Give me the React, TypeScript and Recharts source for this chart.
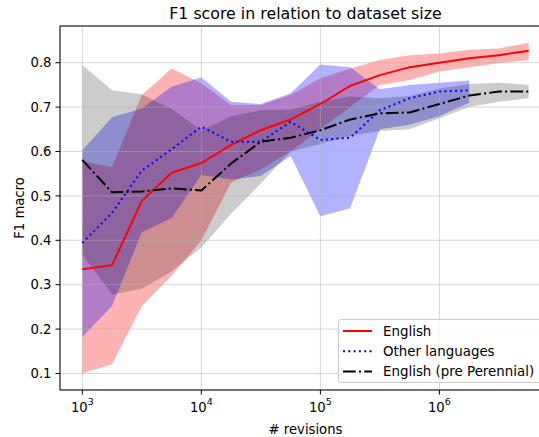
import React from "react";
import { ComposedChart, Area, Line, XAxis, YAxis, CartesianGrid, Legend, ReferenceLine } from "recharts";

// F1 macro vs. number of revisions (log x), mean line + min/max band per series.

const FONT = "DejaVu Sans, Verdana, sans-serif";

const revisions = [
  1000, 1778, 3162, 5623, 10000, 17783, 31623, 56234, 100000, 177828, 316228,
  562341, 1000000, 1778279, 3162278, 5623413,
];

const englishMean = [0.335, 0.344, 0.489, 0.552, 0.574, 0.615, 0.648, 0.672, 0.707, 0.748, 0.772, 0.79, 0.8, 0.81, 0.817, 0.827];
const englishLow = [0.1, 0.121, 0.252, 0.32, 0.4, 0.53, 0.56, 0.6, 0.65, 0.7, 0.75, 0.761, 0.78, 0.79, 0.799, 0.806];
const englishHigh = [0.578, 0.565, 0.727, 0.787, 0.754, 0.705, 0.705, 0.727, 0.765, 0.787, 0.806, 0.817, 0.821, 0.829, 0.832, 0.845];

const otherMean = [0.394, 0.462, 0.557, 0.605, 0.656, 0.622, 0.622, 0.667, 0.626, 0.631, 0.693, 0.72, 0.735, 0.738];
const otherLow = [0.182, 0.252, 0.418, 0.45, 0.547, 0.537, 0.545, 0.59, 0.454, 0.472, 0.65, 0.66, 0.68, 0.71];
const otherHigh = [0.603, 0.677, 0.697, 0.746, 0.767, 0.712, 0.707, 0.731, 0.796, 0.79, 0.74, 0.75, 0.755, 0.76];

const preMean = [0.581, 0.508, 0.51, 0.517, 0.512, 0.573, 0.622, 0.631, 0.648, 0.672, 0.686, 0.688, 0.707, 0.726, 0.735, 0.735];
const preLow = [0.368, 0.278, 0.291, 0.33, 0.384, 0.46, 0.528, 0.6, 0.617, 0.635, 0.646, 0.65, 0.675, 0.7, 0.712, 0.72];
const preHigh = [0.795, 0.738, 0.729, 0.696, 0.648, 0.679, 0.693, 0.694, 0.712, 0.724, 0.72, 0.725, 0.742, 0.752, 0.755, 0.75];

const xTicks = [1000, 10000, 100000, 1000000];
const yTicks = [0.1, 0.2, 0.3, 0.4, 0.5, 0.6, 0.7, 0.8];

// matplotlib-style margins around the data range
const xDomain = [649.4, 8659643];
const yDomain = [0.0628, 0.8827];

const legendItems = [
  { name: "English", color: "#ff0000", dash: undefined as string | undefined },
  { name: "Other languages", color: "#0000ff", dash: "2 3.3" },
  { name: "English (pre Perennial)", color: "#000000", dash: "12.8 3.2 2 3.2" },
];

function toRows(mean: number[], low: number[], high: number[]) {
  return mean.map((m, i) => ({ n: revisions[i], mean: m, band: [low[i], high[i]] }));
}

const englishRows = toRows(englishMean, englishLow, englishHigh);
const otherRows = toRows(otherMean, otherLow, otherHigh);
const preRows = toRows(preMean, preLow, preHigh);

function PowerTick(props: any) {
  const { x, y, payload } = props;
  const exp = Math.round(Math.log10(payload.value));
  return (
    <text x={x} y={y} dy={15} textAnchor="middle" fontSize={13.2} fontFamily={FONT} fill="#000">
      10
      <tspan dy={-6.5} fontSize={9.5}>
        {exp}
      </tspan>
    </text>
  );
}

function LegendBox() {
  return (
    <div
      style={{
        width: 204,
        height: 64,
        boxSizing: "border-box",
        border: "1px solid #cccccc",
        borderRadius: 3,
        background: "rgba(255,255,255,0.8)",
      }}
    >
      <svg width={204} height={62} style={{ display: "block" }}>
        {legendItems.map((it, i) => {
          const cy = 11 + i * 20.2;
          return (
            <g key={it.name}>
              <line x1={4} x2={33} y1={cy} y2={cy} stroke={it.color} strokeWidth={2} strokeDasharray={it.dash} />
              <text x={44} y={cy} dy="0.36em" fontSize={13.4} fontFamily={FONT} fill="#000">
                {it.name}
              </text>
            </g>
          );
        })}
      </svg>
    </div>
  );
}

export default function App() {
  return (
    <div
      style={{
        position: "absolute",
        left: 0,
        top: 0,
        width: 539,
        height: 437,
        overflow: "hidden",
        background: "#fff",
        fontFamily: FONT,
      }}
    >
      <ComposedChart width={560} height={437} margin={{ top: 26, right: 9, left: 0, bottom: 0 }}>
        <text x={305.5} y={18.5} textAnchor="middle" fontSize={15.8} fontFamily={FONT} fill="#000">
          F1 score in relation to dataset size
        </text>
        <XAxis
          dataKey="n"
          type="number"
          scale="log"
          domain={xDomain}
          allowDataOverflow
          ticks={xTicks}
          height={47}
          stroke="#000"
          tickSize={4.5}
          tickMargin={2}
          tick={<PowerTick />}
          label={{ value: "# revisions", position: "insideBottom", offset: 3, fontSize: 13.2, fontFamily: FONT, fill: "#000" }}
        />
        <YAxis
          type="number"
          domain={yDomain}
          allowDataOverflow
          ticks={yTicks}
          width={60}
          stroke="#000"
          tickSize={4.5}
          tickMargin={4}
          tick={{ fontSize: 13.2, fontFamily: FONT, fill: "#000" }}
          label={{ value: "F1 macro", angle: -90, position: "insideLeft", offset: 19, fontSize: 13.2, fontFamily: FONT, fill: "#000", style: { textAnchor: "middle" } }}
        />
        <Area data={englishRows} dataKey="band" type="linear" stroke="none" fill="#ff0000" fillOpacity={0.3} isAnimationActive={false} activeDot={false} legendType="none" />
        <Area data={otherRows} dataKey="band" type="linear" stroke="none" fill="#0000ff" fillOpacity={0.3} isAnimationActive={false} activeDot={false} legendType="none" />
        <Area data={preRows} dataKey="band" type="linear" stroke="none" fill="#000000" fillOpacity={0.2} isAnimationActive={false} activeDot={false} legendType="none" />
        <CartesianGrid stroke="#b0b0b0" strokeOpacity={0.5} strokeWidth={1} zIndex={150} />
        <ReferenceLine y={yDomain[1]} stroke="#000" strokeWidth={1} ifOverflow="visible" />
        <Line data={englishRows} dataKey="mean" name="English" type="linear" stroke="#ff0000" strokeWidth={2} dot={false} activeDot={false} isAnimationActive={false} />
        <Line data={otherRows} dataKey="mean" name="Other languages" type="linear" stroke="#0000ff" strokeWidth={2} strokeDasharray="2 3.3" dot={false} activeDot={false} isAnimationActive={false} />
        <Line data={preRows} dataKey="mean" name="English (pre Perennial)" type="linear" stroke="#000000" strokeWidth={2} strokeDasharray="12.8 3.2 2 3.2" dot={false} activeDot={false} isAnimationActive={false} />
        <Legend
          layout="vertical"
          align="center"
          verticalAlign="middle"
          wrapperStyle={{ left: 338, top: 319, width: 204, height: 64 }}
          content={() => <LegendBox />}
        />
      </ComposedChart>
    </div>
  );
}
